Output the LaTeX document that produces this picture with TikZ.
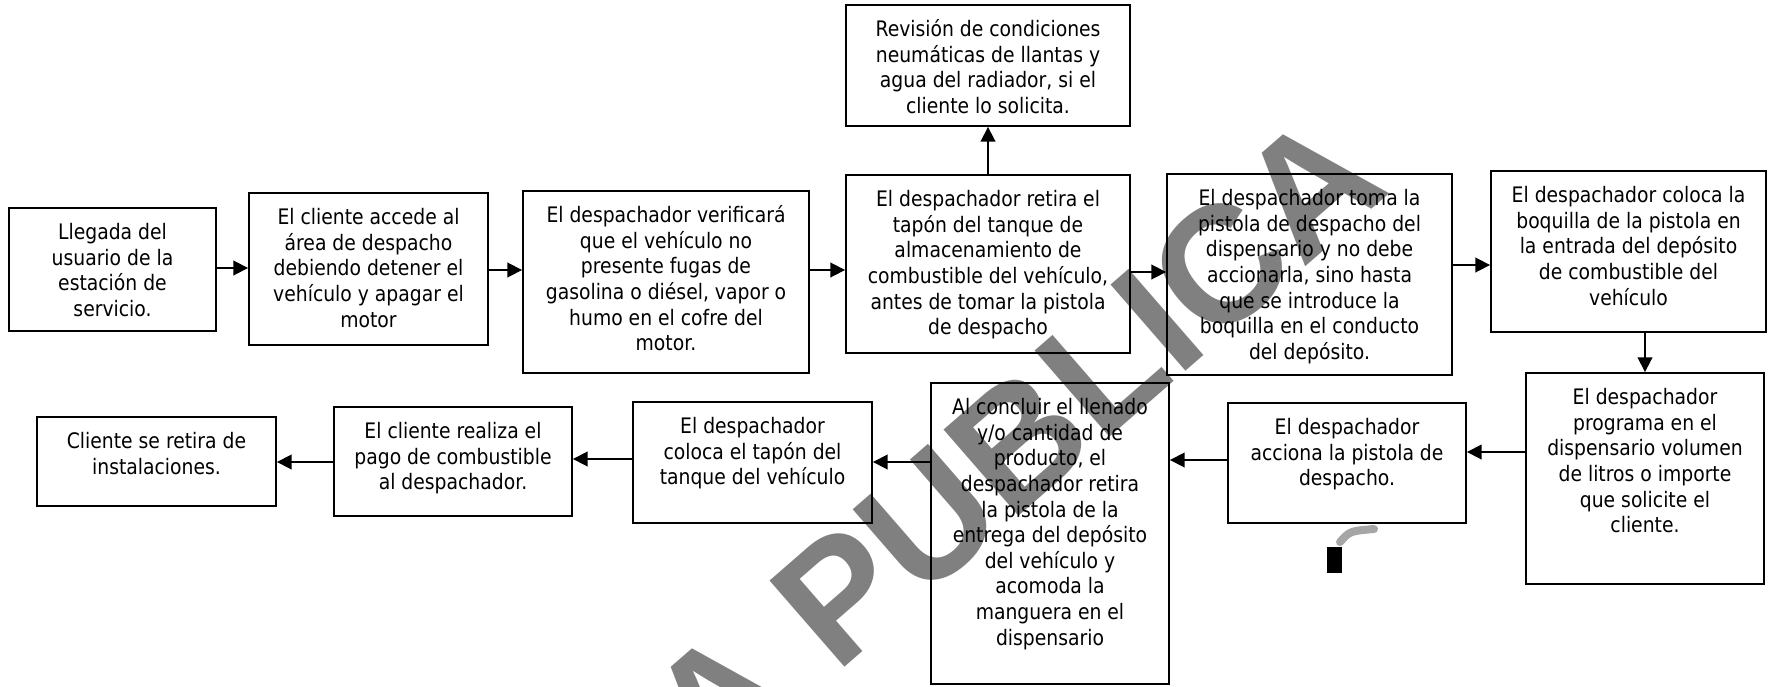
\documentclass[tikz,border=0pt]{standalone}
\usepackage{fontspec}
\setmainfont{DejaVu Sans}[FakeStretch=0.88]
\newfontfamily\wmfamily{Liberation Sans}
\usetikzlibrary{arrows.meta}
\definecolor{wmgray}{RGB}{128,128,128}
\newcommand\boxfont{\fontsize{16}{19.2}\selectfont}
\tikzset{
  box/.style={draw=black, line width=1.4pt, inner sep=0pt},
  txt/.style={anchor=north, inner sep=0pt, align=center, font=\boxfont},
  arr/.style={line width=1.3pt, -{Triangle[length=11pt,width=11pt]}},
  wmark/.style={rotate=41, text=wmgray, inner sep=0pt, font={\wmfamily\bfseries\fontsize{124.5}{130}\selectfont}},
}
\newcommand\mkbox[6]{%
  \node[box, minimum width={(#4-#2)*0.75pt}, minimum height={(#5-#3)*0.75pt}] (#1) at ({(#2+#4)/2},{(#3+#5)/2}) {};
  \node[txt] (t#1) at ({(#2+#4)/2},{#3+13.6}) {\strut #6};
}
\begin{document}
\begin{tikzpicture}[x=0.75pt, y=-0.75pt]
\useasboundingbox (0,0) rectangle (1768,686);
\clip (0,0) rectangle (1768,686);
% watermark
\node[wmark] (wm) at (1015,444) {A PUBLICA};
% boxes
\mkbox{b1}{9}{208}{216}{331}{Llegada del\\usuario de la\\estación de\\servicio.}
\mkbox{b2}{249}{193}{488}{345}{El cliente accede al\\área de despacho\\debiendo detener el\\vehículo y apagar el\\motor}
\mkbox{b3}{523}{191}{809}{373}{El despachador verificará\\que el vehículo no\\presente fugas de\\gasolina o diésel, vapor o\\humo en el cofre del\\motor.}
\mkbox{r}{846}{5}{1130}{126}{Revisión de condiciones\\neumáticas de llantas y\\agua del radiador, si el\\cliente lo solicita.}
\mkbox{b4}{846}{175}{1130}{353}{El despachador retira el\\tapón del tanque de\\almacenamiento de\\combustible del vehículo,\\antes de tomar la pistola\\de despacho}
\mkbox{b5}{1167}{174}{1452}{375}{El despachador toma la\\pistola de despacho del\\dispensario y no debe\\accionarla, sino hasta\\que se introduce la\\boquilla en el conducto\\del depósito.}
\mkbox{b6}{1491}{171}{1766}{332}{El despachador coloca la\\boquilla de la pistola en\\la entrada del depósito\\de combustible del\\vehículo}
\mkbox{b7}{1526}{373}{1764}{584}{El despachador\\programa en el\\dispensario volumen\\de litros o importe\\que solicite el\\cliente.}
\mkbox{b8}{1228}{403}{1466}{523}{El despachador\\acciona la pistola de\\despacho.}
\mkbox{b9}{931}{383}{1169}{684}{Al concluir el llenado\\y/o cantidad de\\producto, el\\despachador retira\\la pistola de la\\entrega del depósito\\del vehículo y\\acomoda la\\manguera en el\\dispensario}
\mkbox{b10}{633}{402}{872}{523}{El despachador\\coloca el tapón del\\tanque del vehículo}
\mkbox{b11}{334}{407}{572}{516}{El cliente realiza el\\pago de combustible\\al despachador.}
\mkbox{b12}{37}{417}{276}{506}{Cliente se retira de\\instalaciones.}
% connectors
\draw[arr] (b1.east |- 0,268) -- (b2.west |- 0,268);
\draw[arr] (b2.east |- 0,270) -- (b3.west |- 0,270);
\draw[arr] (b3.east |- 0,270) -- (b4.west |- 0,270);
\draw[arr] (b4.east |- 0,272) -- (b5.west |- 0,272);
\draw[arr] (b5.east |- 0,265) -- (b6.west |- 0,265);
\draw[arr] (b4.north) -- (r.south);
\draw[arr] (b7.north |- b6.south) -- (b7.north);
\draw[arr] (b7.west |- 0,452) -- (b8.east |- 0,452);
\draw[arr] (b8.west |- 0,460) -- (b9.east |- 0,460);
\draw[arr] (b9.west |- 0,462) -- (b10.east |- 0,462);
\draw[arr] (b10.west |- 0,459) -- (b11.east |- 0,459);
\draw[arr] (b11.west |- 0,462) -- (b12.east |- 0,462);
% small icon
\fill[black] (1327,547) rectangle (1342,573);
\draw[gray!70, line width=6pt, line cap=round] (1340,542) .. controls (1350,531) .. (1374,529);
\end{tikzpicture}
\end{document}
